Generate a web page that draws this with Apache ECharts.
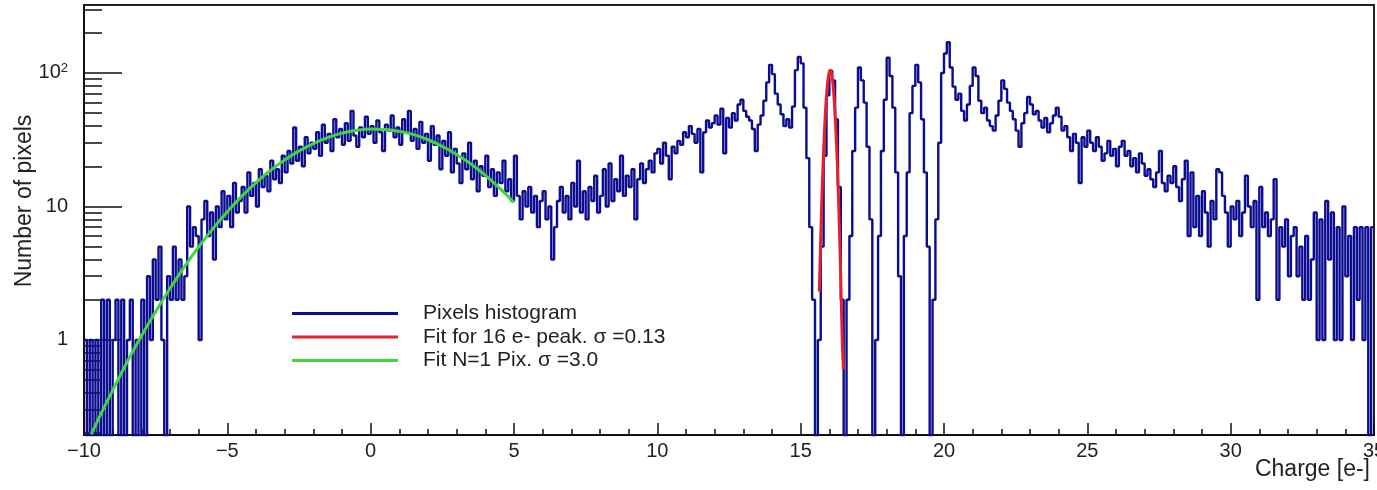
<!DOCTYPE html>
<html>
<head>
<meta charset="utf-8">
<script src="https://cdn.jsdelivr.net/npm/echarts@6.0.0/dist/echarts.min.js"></script>
<style>
html,body{margin:0;padding:0;background:#fff;}
#chart{width:1377px;height:490px;}
</style>
</head>
<body>
<div id="chart"></div>
<script>
// ---------- DATA ----------
// Histogram binning (bin left edges start at binStart, width binWidth)
const binStart = -10;
const binWidth = 0.1;
// Counts per bin, grouped by 5 e- ranges
const countsM10toM5 = [1,0,1,0,1,0,2,0,2,0, 1,2,0,2,0,1,2,0,1,0, 2,0,3,1,4,2,5,1,0,3, 2,5,2,4,2,3,10,5,7,6, 1,8,11,6,9,4,10,7,13,8];
const countsM5to0 = [12,7,15,9,11,14,9,18,12,15, 10,19,14,17,13,22,16,19,15,24, 18,26,21,39,22,28,20,33,25,30, 27,36,24,41,30,35,26,45,33,38, 29,42,31,52,34,28,39,33,47,35];
const counts0to5 = [40,30,44,36,26,41,37,48,33,39, 29,45,36,52,31,38,27,43,30,35, 22,40,29,34,19,31,24,36,18,27, 21,15,25,19,30,16,22,13,20,17, 24,14,19,12,18,15,22,13,16,11];
const counts5to10 = [24,12,8,13,10,14,9,12,7,11, 13,8,10,4,7,11,14,9,12,8, 15,10,22,9,13,8,14,11,17,9, 12,19,10,21,11,16,13,24,12,17, 14,19,8,16,21,15,19,22,18,25];
const counts10to15 = [27,21,30,24,16,28,25,31,29,36, 33,40,35,30,38,18,36,44,39,42, 48,41,54,25,46,39,50,44,58,63, 52,47,44,38,26,41,48,62,85,115, 98,70,58,49,40,45,39,56,105,132];
const counts15to20 = [118,55,23,7,2,0,1,5,24,68, 104,88,45,14,2,0,2,6,26,55, 110,88,60,28,8,0,1,6,26,63, 130,95,55,18,3,0,6,18,50,80, 115,85,45,18,5,0,2,8,30,100];
const counts20to25 = [140,170,110,79,63,70,52,44,58,80, 110,95,62,50,55,44,40,37,48,62, 88,76,60,52,45,37,28,42,50,66, 58,49,52,44,39,46,36,42,48,55, 47,37,40,33,26,35,30,15,33,28];
const counts25to30 = [37,30,26,33,28,22,25,31,24,27, 20,28,31,24,26,20,23,18,25,21, 17,19,16,14,18,26,15,13,17,15, 20,14,11,16,22,6,18,7,12,6, 13,9,5,11,8,19,18,12,9,5];
const counts30to35 = [10,8,11,6,9,17,10,7,11,2, 14,7,9,6,8,16,2,7,5,8, 3,6,7,3,5,2,6,2,4,9, 1,8,1,11,4,9,1,7,1,10, 3,6,1,7,2,7,1,7,0,7];

// Fit N=1 Pix (green)
const fitN1X = [-9.75,-9.5,-9,-8.5,-8,-7.5,-7,-6.5,-6,-5.5,-5,-4.5,-4,-3.5,-3,-2.5,-2,-1.5,-1,-0.5,0,0.5,1,1.5,2,2.5,3,3.5,4,4.5,5];
const fitN1Y = [0.196,0.254,0.42,0.68,1.07,1.63,2.43,3.53,4.98,6.83,9.13,11.9,15.1,18.6,22.3,26.0,29.6,32.8,35.4,37.2,38.0,37.7,36.5,34.5,31.6,28.2,24.5,20.8,17.1,13.7,10.7];

// Fit for 16 e- peak (red)
const fit16X = [15.65,15.7,15.75,15.8,15.85,15.9,15.95,16.0,16.03,16.05,16.1,16.15,16.2,16.25,16.3,16.35,16.4,16.45,16.49];
const fit16Y = [2.3,5.9,13.3,26,44.7,67,88.7,102,105,104,92,72,49,29,15.3,7.0,2.8,1.0,0.6];

// Axis ticks
const yMajorTicks = [1, 10, 100];
const yMinorTicks = [0.2,0.3,0.4,0.5,0.6,0.7,0.8,0.9, 2,3,4,5,6,7,8,9, 20,30,40,50,60,70,80,90, 200,300];

const seriesNames = ['Pixels histogram', 'Fit for 16 e- peak. \u03c3 =0.13', 'Fit N=1 Pix. \u03c3 =3.0'];

// ---------- BUILD ----------
const FONT = '"Liberation Sans", Arial, Helvetica, sans-serif';
const counts = [].concat(countsM10toM5, countsM5to0, counts0to5, counts5to10, counts10to15,
                         counts15to20, counts20to25, counts25to30, counts30to35);
const EMPTY_BIN = 0.01; // empty bins drawn below the log axis floor
const histData = counts.map((c, i) => [+(binStart + i * binWidth).toFixed(2), c === 0 ? EMPTY_BIN : c]);
histData.push([+(binStart + counts.length * binWidth).toFixed(2), counts[counts.length - 1] === 0 ? EMPTY_BIN : counts[counts.length - 1]]);
const fitN1Data = fitN1X.map((x, i) => [x, fitN1Y[i]]);
const fit16Data = fit16X.map((x, i) => [x, fit16Y[i]]);

const Y_MIN = 0.194, Y_MAX = 323;
const tickColor = '#111';
const BLUE = '#0c0c90', RED = '#e8202a', GREEN = '#3ed83e';

const chart = echarts.init(document.getElementById('chart'), null, {renderer: 'canvas'});
chart.setOption({
  animation: false,
  backgroundColor: '#fff',
  grid: {left: 84, right: 3, top: 5, bottom: 55, show: true, borderColor: '#222', borderWidth: 2,
         backgroundColor: 'transparent', containLabel: false, outerBoundsMode: 'none'},
  legend: {
    orient: 'vertical', left: 287, top: 298,
    icon: 'rect', itemWidth: 106, itemHeight: 3, itemGap: 2.5,
    textStyle: {fontSize: 21, fontFamily: FONT, color: '#222', padding: [0, 0, 0, 20]},
    data: seriesNames
  },
  xAxis: {
    type: 'value', min: -10, max: 35, interval: 5,
    axisLine: {onZero: false, lineStyle: {color: tickColor, width: 2}},
    axisTick: {inside: true, length: 12, lineStyle: {color: tickColor, width: 1.5}},
    minorTick: {show: true, splitNumber: 5, length: 6, lineStyle: {color: tickColor, width: 1.5}},
    splitLine: {show: false},
    axisLabel: {margin: 6, fontSize: 20, fontFamily: FONT, color: '#222',
      formatter: v => v < 0 ? '\u2212' + (-v) : String(v)}
  },
  yAxis: [{
    type: 'log', min: Y_MIN, max: Y_MAX,
    axisLine: {show: true, onZero: false, lineStyle: {color: tickColor, width: 2}},
    axisTick: {inside: true, length: 38, customValues: yMajorTicks, lineStyle: {color: tickColor, width: 1.5}},
    splitLine: {show: false},
    axisLabel: {
      customValues: yMajorTicks, margin: 16, fontSize: 20, fontFamily: FONT, color: '#222',
      formatter: v => v >= 100 ? '10{sup|2}' : String(v),
      rich: {sup: {fontSize: 13, fontFamily: FONT, color: '#222', padding: [0, 0, 9, 0]}}
    }
  }, {
    type: 'log', min: Y_MIN, max: Y_MAX, position: 'left', offset: 0,
    axisLine: {show: false, onZero: false},
    axisTick: {inside: true, length: 18, customValues: yMinorTicks, lineStyle: {color: tickColor, width: 1.5}},
    axisLabel: {show: false},
    splitLine: {show: false}
  }],
  series: [{
    name: seriesNames[0], type: 'line', step: 'end', data: histData,
    symbol: 'none', clip: true,
    lineStyle: {color: BLUE, width: 2.4},
    itemStyle: {color: BLUE}
  }, {
    name: seriesNames[2], type: 'line', data: fitN1Data, smooth: true,
    symbol: 'none', clip: true,
    lineStyle: {color: GREEN, width: 3},
    itemStyle: {color: GREEN}
  }, {
    name: seriesNames[1], type: 'line', data: fit16Data, smooth: true,
    symbol: 'none', clip: true,
    lineStyle: {color: RED, width: 3},
    itemStyle: {color: RED}
  }],
  graphic: [{
    type: 'text', x: 25, y: 201, rotation: Math.PI / 2,
    style: {text: 'Number of pixels', fontSize: 23, fontFamily: FONT, fill: '#222', align: 'center', verticalAlign: 'middle'}
  }, {
    type: 'text', x: 1370, y: 470,
    style: {text: 'Charge [e-]', fontSize: 23, fontFamily: FONT, fill: '#222', align: 'right', verticalAlign: 'middle'}
  }]
});
</script>
</body>
</html>
